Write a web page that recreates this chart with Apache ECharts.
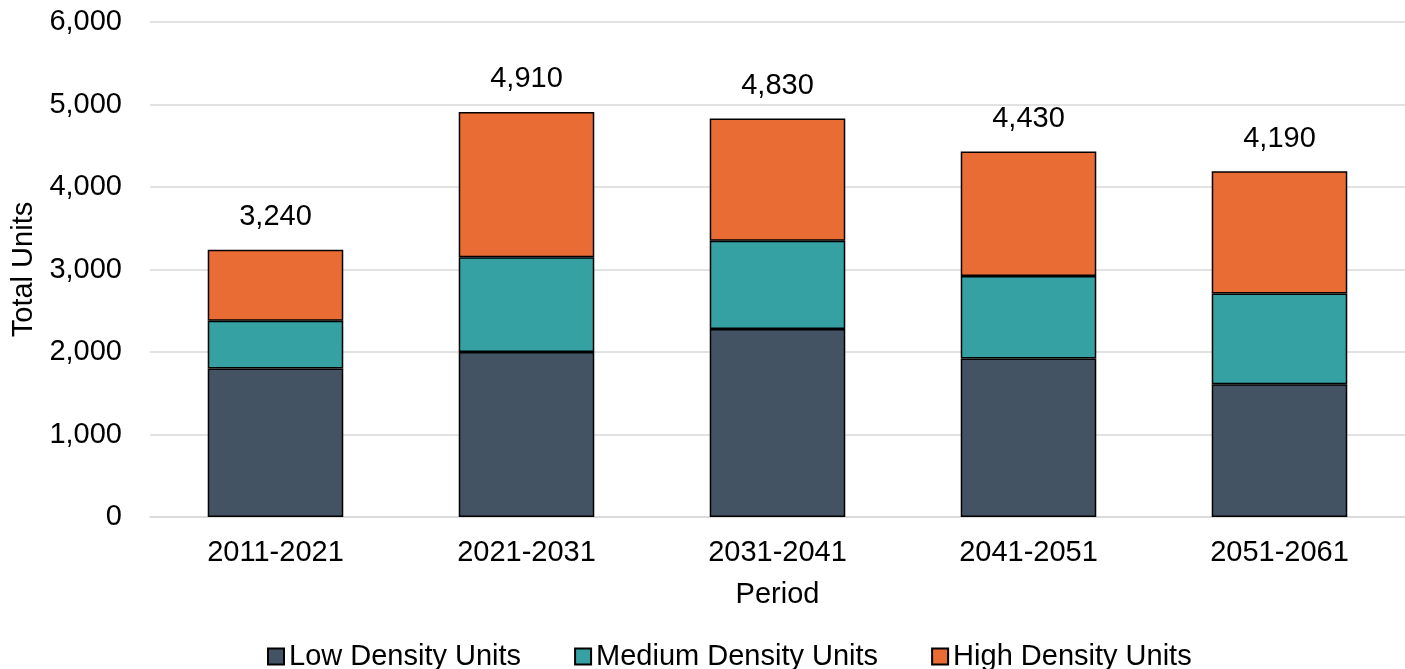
<!DOCTYPE html>
<html>
<head>
<meta charset="utf-8">
<script src="https://cdn.jsdelivr.net/npm/echarts@6/dist/echarts.min.js"></script>
<style>html,body{margin:0;padding:0;background:#fff}#c{width:1405px;height:669px}</style>
</head>
<body>
<div id="c"></div>
<script>
const categories = ['2011-2021', '2021-2031', '2031-2041', '2041-2051', '2051-2061'];
const lowDensity = [1800, 2000, 2280, 1920, 1610];
const mediumDensity = [580, 1150, 1070, 1000, 1100];
const highDensity = [860, 1760, 1480, 1510, 1480];
const seriesNames = ['Low Density Units', 'Medium Density Units', 'High Density Units'];

const totals = categories.map((c, i) => lowDensity[i] + mediumDensity[i] + highDensity[i]);
const FONT = '"Liberation Sans", Arial, sans-serif';
const FS = 29;
const chart = echarts.init(document.getElementById('c'));
const itemStyleBase = { borderColor: '#000', borderWidth: 1.5 };
chart.setOption({
  animation: false,
  textStyle: { fontFamily: FONT },
  grid: { left: 150, right: 0, top: 22, bottom: 152 },
  legend: {
    top: 637,
    left: 262,
    itemWidth: 16, itemHeight: 16, itemGap: 53,
    icon: 'rect',
    textStyle: { fontSize: FS, color: '#000', fontFamily: FONT },
    data: seriesNames
  },
  xAxis: {
    type: 'category',
    data: categories,
    name: 'Period',
    nameLocation: 'middle',
    nameGap: 63,
    nameTextStyle: { fontSize: FS, color: '#000', fontFamily: FONT },
    axisLine: { show: true, lineStyle: { color: '#d9d9d9', width: 1.5 } },
    axisTick: { show: false },
    axisLabel: { fontSize: FS, color: '#000', margin: 21, fontFamily: FONT }
  },
  yAxis: {
    type: 'value',
    min: 0, max: 6000, interval: 1000,
    name: 'Total Units',
    nameLocation: 'middle',
    nameGap: 104,
    nameRotate: 90,
    nameTextStyle: { fontSize: FS, color: '#000', fontFamily: FONT },
    axisLine: { show: false },
    axisTick: { show: false },
    splitLine: { lineStyle: { color: '#d9d9d9', width: 1.5 } },
    axisLabel: {
      fontSize: FS, color: '#000', margin: 28, fontFamily: FONT,
      formatter: v => v.toLocaleString('en-US')
    }
  },
  series: [
    { name: seriesNames[0], type: 'bar', stack: 't', barWidth: '54%', data: lowDensity,
      itemStyle: Object.assign({ color: '#435364' }, itemStyleBase) },
    { name: seriesNames[1], type: 'bar', stack: 't', data: mediumDensity,
      itemStyle: Object.assign({ color: '#35A1A3' }, itemStyleBase) },
    { name: seriesNames[2], type: 'bar', stack: 't', data: highDensity,
      itemStyle: Object.assign({ color: '#E96C35' }, itemStyleBase),
      label: { show: true, position: 'top', distance: 18, fontSize: FS, color: '#000', fontFamily: FONT,
        formatter: p => totals[p.dataIndex].toLocaleString('en-US') } }
  ]
});
</script>
</body>
</html>
